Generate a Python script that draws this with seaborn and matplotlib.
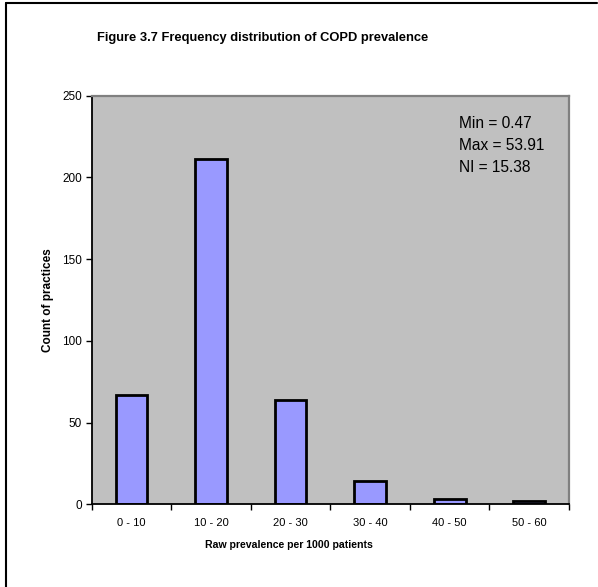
import matplotlib
matplotlib.use("Agg")
import matplotlib.pyplot as plt
import seaborn as sns
import pandas as pd
import numpy as np

categories = ["0 - 10", "10 - 20", "20 - 30", "30 - 40", "40 - 50", "50 - 60"]
counts = [67, 211, 64, 14, 3, 2]
stats_lines = ["Min = 0.47", "Max = 53.91", "NI = 15.38"]
y_ticks = [0, 50, 100, 150, 200, 250]
title = "Figure 3.7 Frequency distribution of COPD prevalence"
xlabel = "Raw prevalence per 1000 patients"
ylabel = "Count of practices"

sns.set_theme(style="white")
plt.rcParams["font.family"] = ["Liberation Sans", "DejaVu Sans"]
plt.rcParams["text.color"] = "black"
plt.rcParams["axes.labelcolor"] = "black"
plt.rcParams["xtick.color"] = "black"
plt.rcParams["ytick.color"] = "black"
plt.rcParams["xtick.labelcolor"] = "black"
plt.rcParams["ytick.labelcolor"] = "black"

df = pd.DataFrame({"cat": categories, "count": counts})

fig = plt.figure(figsize=(5.98, 5.87), dpi=100)
ax = fig.add_axes([91.7 / 598, 1 - 504.3 / 587, (569 - 91.7) / 598, (504.3 - 95.7) / 587])
ax.set_facecolor("#C0C0C0")

sns.barplot(data=df, x="cat", y="count", ax=ax, width=0.4, color="#9999FF",
            edgecolor="black", linewidth=2.0, saturation=1)
for p in ax.patches:
    p.set_facecolor("#9999FF")

ax.set_xlim(-0.5, len(categories) - 0.5)
ax.set_ylim(0, 250)
ax.set_yticks(y_ticks)
ax.set_yticklabels([str(v) for v in y_ticks], fontsize=8.5, color="black")
ax.set_xticks(range(len(categories)))
ax.set_xticklabels(categories, fontsize=8, color="black")
ax.set_xticks(np.arange(-0.5, len(categories)), minor=True)
ax.tick_params(axis="x", which="major", length=0, pad=10)
ax.tick_params(axis="x", which="minor", length=4, width=1, color="black", direction="out", bottom=True)
ax.tick_params(axis="y", which="major", length=4, width=1, color="black", direction="out", left=True, pad=3)
ax.set_xlabel("")
ax.set_ylabel("")

for s in ["left", "bottom"]:
    ax.spines[s].set_color("black")
    ax.spines[s].set_linewidth(1.3)
for s in ["top", "right"]:
    ax.spines[s].set_color("#808080")
    ax.spines[s].set_linewidth(1.6)
    ax.spines[s].set_visible(True)

fig.text(263 / 598, 1 - 38 / 587, title, ha="center", va="center",
         fontsize=9.3, fontweight="bold", color="black")
fig.text(289 / 598, 1 - 545 / 587, xlabel, ha="center", va="center",
         fontsize=7.6, fontweight="bold", color="black")
fig.text(48 / 598, 1 - 300 / 587, ylabel, ha="center", va="center",
         fontsize=8.5, fontweight="bold", rotation=90, color="black")

for i, line in enumerate(stats_lines):
    fig.text(459 / 598, 1 - (124 + 21.5 * i) / 587, line, ha="left", va="center",
             fontsize=11.2, color="black")

# figure border (left and top)
fig.add_artist(plt.Line2D([5.5 / 598, 5.5 / 598], [0, 1 - 2.5 / 587], color="black",
                          linewidth=1.5, transform=fig.transFigure))
fig.add_artist(plt.Line2D([5.5 / 598, 597 / 598], [1 - 2.5 / 587, 1 - 2.5 / 587], color="black",
                          linewidth=1.5, transform=fig.transFigure))

fig.savefig("out.png", dpi=100)
